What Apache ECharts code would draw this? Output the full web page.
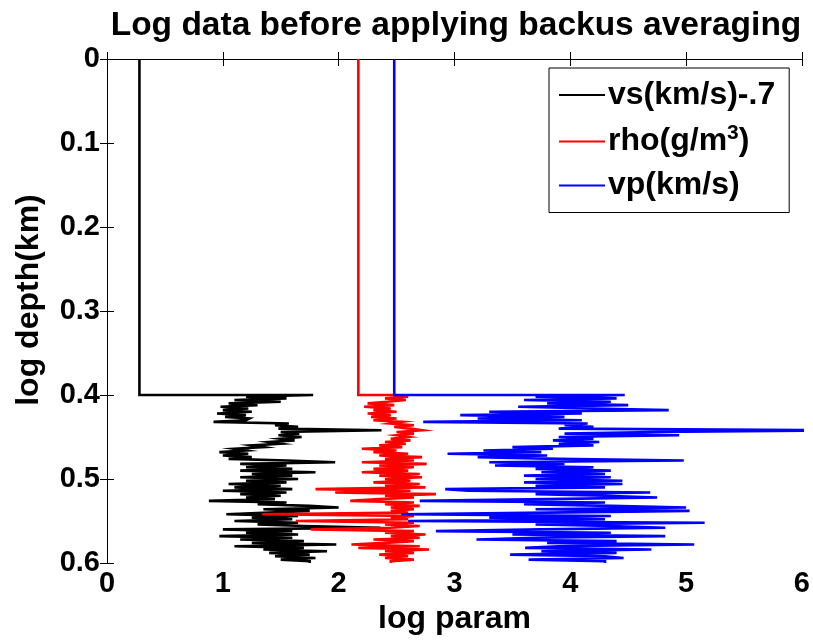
<!DOCTYPE html>
<html>
<head>
<meta charset="utf-8">
<script src="https://cdn.jsdelivr.net/npm/echarts@6/dist/echarts.min.js"></script>
<style>
html,body{margin:0;padding:0;background:#fff;}
#chart{width:813px;height:640px;}
</style>
</head>
<body>
<div id="chart"></div>
<script>
// ---- data ----
const xTicks = [0, 1, 2, 3, 4, 5, 6];
const yTicks = [0, 0.1, 0.2, 0.3, 0.4, 0.5, 0.6];
const seriesNames = ['vs(km/s)-.7', 'rho(g/m3)', 'vp(km/s)'];
// values of the single upper layer (0 - 0.4 km)
const upperLayerBottom = 0.4;
const vsTop = 0.28;
const rhoTop = 2.17;
const vpTop = 2.48;
// sampled log below 0.4 km, one value per 0.002 km sample
const sampleStart = 0.4;
const sampleStep = 0.002;
const vs = [1.78,1.2,1.55,1.1,1.5,1.05,1.3,0.98,1.22,1.0,
 1.25,0.95,1.2,1.02,1.23,1.2,0.92,1.57,1.45,1.65,
 1.48,2.37,1.5,1.66,1.48,1.68,1.5,1.62,1.4,1.5,
 1.25,1.35,1.1,1.2,0.97,1.22,1.0,1.25,1.05,1.55,
 1.97,1.15,1.55,1.2,1.6,1.15,1.8,1.25,1.6,1.15,
 1.65,1.2,1.55,1.05,1.5,1.1,1.6,1.0,1.55,1.15,
 1.5,1.2,1.45,0.88,1.55,1.3,1.75,2.0,1.35,1.75,
 1.4,1.03,1.65,1.25,1.6,1.1,1.65,1.3,1.7,2.36,
 1.0,1.6,1.2,1.65,0.97,1.6,1.15,1.7,1.25,1.98,
 1.1,1.7,1.35,1.9,1.4,1.75,1.45,1.8,1.5,1.75];
const rho = [2.47,2.6,2.4,2.58,2.42,2.25,2.48,2.22,2.45,2.3,
 2.5,2.25,2.45,2.28,2.5,2.3,2.55,2.45,2.65,2.48,
 2.62,2.72,2.5,2.65,2.5,2.6,2.45,2.62,2.4,2.58,
 2.35,2.55,2.2,2.5,2.3,2.6,2.35,2.72,2.4,2.65,
 2.2,2.76,2.35,2.65,2.3,2.6,2.2,2.7,2.35,2.72,
 2.4,2.62,2.3,2.7,2.4,2.75,1.8,2.62,1.97,2.84,
 2.4,2.65,2.35,2.1,2.65,2.4,2.7,2.45,2.65,2.45,
 2.6,1.34,2.65,2.45,2.6,1.63,2.65,2.4,2.7,2.45,
 1.76,2.65,2.4,2.75,2.45,2.7,2.3,2.65,2.4,2.11,
 2.7,2.17,2.78,2.4,2.65,2.35,2.6,2.4,2.65,2.45];
const vp = [4.47,3.7,4.4,3.6,4.35,3.8,4.5,3.55,4.2,4.85,
 3.3,4.1,3.05,3.95,3.2,4.1,2.73,4.15,3.95,4.2,
 3.9,6.3,4.72,3.95,4.94,3.9,4.2,3.85,4.25,3.9,
 4.2,3.5,3.85,3.25,3.75,2.94,3.8,3.2,3.9,4.98,
 3.3,3.95,3.35,4.2,3.7,4.35,3.75,4.3,3.6,4.35,
 3.7,4.45,3.6,4.45,3.7,4.3,2.92,3.12,4.69,3.7,
 4.3,4.75,3.8,2.7,4.3,3.6,4.35,5.0,3.7,5.03,
 3.8,2.54,4.35,3.3,4.3,2.6,5.16,3.7,4.35,4.82,
 3.75,2.84,4.35,3.5,4.82,3.7,3.19,4.4,3.8,5.07,
 3.9,3.61,4.7,3.75,4.4,3.48,4.3,4.46,3.64,4.3];

// ---- build stair-step polylines (value, depth) ----
function stairs(topVal, vals) {
  const pts = [[topVal, 0], [topVal, upperLayerBottom]];
  vals.forEach(function (v, i) {
    pts.push([v, sampleStart + i * sampleStep]);
    pts.push([v, sampleStart + (i + 1) * sampleStep]);
  });
  return pts;
}

const FONT = '"Liberation Sans", Arial, sans-serif';
const chart = echarts.init(document.getElementById('chart'), null, {renderer: 'canvas'});

function mkSeries(name, topVal, vals, color) {
  return {
    name: name, type: 'line', data: stairs(topVal, vals),
    xAxisIndex: 0, yAxisIndex: 0,
    symbol: 'none', showSymbol: false, clip: true,
    lineStyle: {color: color, width: 2.6, join: 'miter', cap: 'butt'},
    itemStyle: {color: color},
    emphasis: {disabled: true}
  };
}

const axisCommon = {
  type: 'value',
  axisLine: {show: true, lineStyle: {color: '#000', width: 1}},
  axisTick: {show: true, inside: true, length: 7, lineStyle: {color: '#000', width: 1}},
  splitLine: {show: false}
};

chart.setOption({
  animation: false,
  backgroundColor: '#fff',
  title: {
    text: 'Log data before applying backus averaging',
    left: 451, top: 4, textAlign: 'center',
    textStyle: {fontFamily: FONT, fontWeight: 'bold', fontSize: 33.5, color: '#000'}
  },
  grid: {left: 107, top: 59, width: 699, height: 504, show: false, containLabel: false},
  legend: {
    orient: 'vertical', left: 549, top: 68,
    padding: [11, 14, 11, 10], itemGap: 12,
    itemWidth: 46, itemHeight: 2, icon: 'rect',
    borderColor: '#000', borderWidth: 1, backgroundColor: '#fff',
    data: seriesNames,
    formatter: function (n) { return n === 'rho(g/m3)' ? 'rho(g/m{sup|3})' : n; },
    textStyle: {
      fontFamily: FONT, fontWeight: 'bold', fontSize: 32, color: '#000', padding: [0, 0, 0, -2],
      rich: {sup: {fontFamily: FONT, fontWeight: 'bold', fontSize: 21, color: '#000', verticalAlign: 'top', padding: [0, 0, 16, 0]}}
    }
  },
  xAxis: [
    Object.assign({}, axisCommon, {
      position: 'bottom', min: xTicks[0], max: xTicks[xTicks.length - 1], interval: 1,
      name: 'log param', nameLocation: 'middle', nameGap: 40,
      nameTextStyle: {fontFamily: FONT, fontWeight: 'bold', fontSize: 32, color: '#000'},
      axisLabel: {show: true, margin: 6, showMinLabel: true, showMaxLabel: true,
        fontFamily: FONT, fontWeight: 'bold', fontSize: 29, color: '#000'}
    }),
    Object.assign({}, axisCommon, {
      position: 'top', min: xTicks[0], max: xTicks[xTicks.length - 1], interval: 1,
      axisLabel: {show: false}
    })
  ],
  yAxis: [
    Object.assign({}, axisCommon, {
      position: 'left', inverse: true, min: yTicks[0], max: yTicks[yTicks.length - 1], interval: 0.1,
      name: 'log depth(km)', nameLocation: 'middle', nameGap: 62,
      nameTextStyle: {fontFamily: FONT, fontWeight: 'bold', fontSize: 32, color: '#000', padding: [0, 0, 0, 22]},
      axisLabel: {show: true, margin: 7, showMinLabel: true, showMaxLabel: true,
        fontFamily: FONT, fontWeight: 'bold', fontSize: 29, color: '#000',
        formatter: function (v) { return String(Math.round(v * 10) / 10); }}
    }),
    Object.assign({}, axisCommon, {
      position: 'right', inverse: true, min: yTicks[0], max: yTicks[yTicks.length - 1], interval: 0.1,
      axisLabel: {show: false}
    })
  ],
  series: [
    mkSeries(seriesNames[0], vsTop, vs, '#000000'),
    mkSeries(seriesNames[1], rhoTop, rho, '#ff0000'),
    mkSeries(seriesNames[2], vpTop, vp, '#0000ff')
  ]
});
</script>
</body>
</html>
